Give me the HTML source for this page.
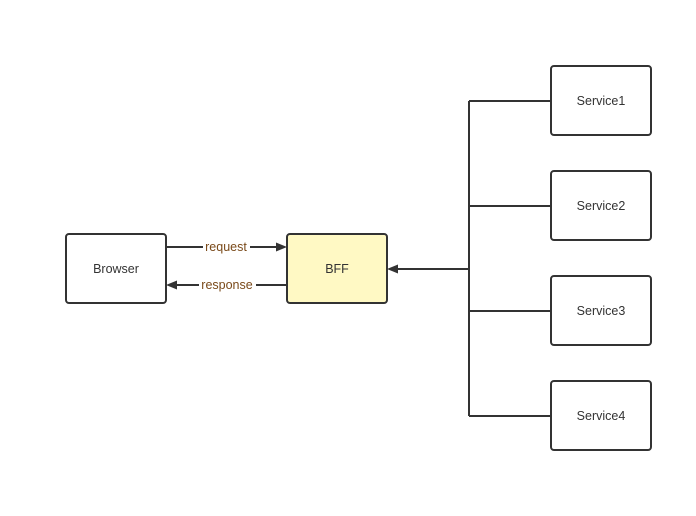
<!DOCTYPE html>
<html><head><style>body{margin:0;background:#fff}</style></head><body>
<svg width="696" height="511" xmlns="http://www.w3.org/2000/svg" font-family="'Liberation Sans', sans-serif" font-size="12.5">
<g fill="#fff" stroke="#333" stroke-width="2">
<rect x="66" y="234" width="100" height="69" rx="3"/>
<rect x="287" y="234" width="100" height="69" rx="3" fill="#fff9c4"/>
<rect x="551" y="66" width="100" height="69" rx="3"/>
<rect x="551" y="171" width="100" height="69" rx="3"/>
<rect x="551" y="276" width="100" height="69" rx="3"/>
<rect x="551" y="381" width="100" height="69" rx="3"/>
</g>
<g stroke="#333" stroke-width="2" fill="none">
<path d="M166 247H277"/>
<path d="M287 285H176"/>
<path d="M469 101V416M469 101H551M469 206H551M469 311H551M469 416H551M469 269H397"/>
</g>
<g fill="#333">
<path d="M287 247l-11 -4.5v9z"/>
<path d="M166 285l11 -4.5v9z"/>
<path d="M387 269l11 -4.5v9z"/>
</g>
<rect x="203" y="240" width="47" height="14" fill="#fff"/>
<rect x="199" y="278" width="57" height="14" fill="#fff"/>
<g fill="#333" text-anchor="middle">
<text x="116" y="273">Browser</text>
<text x="337" y="273">BFF</text>
<text x="601" y="105">Service1</text>
<text x="601" y="210">Service2</text>
<text x="601" y="315">Service3</text>
<text x="601" y="420">Service4</text>
</g>
<g fill="#7a4a1a" text-anchor="middle">
<text x="226" y="251">request</text>
<text x="227" y="289">response</text>
</g>
</svg>
</body></html>
